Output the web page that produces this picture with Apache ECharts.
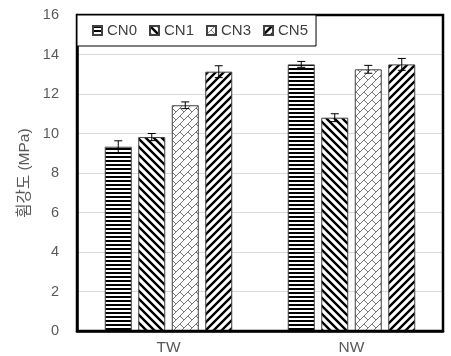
<!DOCTYPE html>
<html><head><meta charset="utf-8">
<script src="https://cdn.jsdelivr.net/npm/echarts@6/dist/echarts.min.js"></script>
<style>html,body{margin:0;padding:0;background:#fff}#c{width:451px;height:356px}</style>
</head><body><div id="c"></div>
<script>
var categories = ['TW', 'NW'];
var seriesNames = ['CN0', 'CN1', 'CN3', 'CN5'];
var CN0 = [9.33, 13.5];
var CN1 = [9.82, 10.8];
var CN3 = [11.43, 13.25];
var CN5 = [13.13, 13.5];
var CN0_err = [0.3, 0.15];
var CN1_err = [0.18, 0.2];
var CN3_err = [0.17, 0.2];
var CN5_err = [0.3, 0.3];
var yTicks = [0, 2, 4, 6, 8, 10, 12, 14, 16];

var values = [CN0, CN1, CN3, CN5];
var errs = [CN0_err, CN1_err, CN3_err, CN5_err];

function mk(w, h, draw) {
  var c = document.createElement('canvas'); c.width = w; c.height = h;
  var g = c.getContext('2d'); g.fillStyle = '#fff'; g.fillRect(0, 0, w, h);
  draw(g); return c;
}
var patH = mk(4, 4, function (g) { g.fillStyle = '#000'; g.fillRect(0, 0, 4, 2); });
var patBack = mk(8, 8, function (g) {
  g.strokeStyle = '#000'; g.lineWidth = 2.4;
  g.beginPath(); g.moveTo(-2, -2); g.lineTo(10, 10);
  g.moveTo(-10, -2); g.lineTo(2, 10); g.moveTo(6, -2); g.lineTo(18, 10); g.stroke();
});
var patFwd = mk(8, 8, function (g) {
  g.strokeStyle = '#000'; g.lineWidth = 2.4;
  g.beginPath(); g.moveTo(-2, 10); g.lineTo(10, -2);
  g.moveTo(-10, 10); g.lineTo(2, -2); g.moveTo(6, 10); g.lineTo(18, -2); g.stroke();
});
var patBrick = mk(8, 8, function (g) {
  g.strokeStyle = '#777'; g.lineWidth = 1;
  g.beginPath(); g.moveTo(-1, 9); g.lineTo(9, -1);
  g.moveTo(4, 4); g.lineTo(9, 9); g.stroke();
});
var pats = [patH, patBack, patBrick, patFwd];

var BW = 27, GAP = 6.5;
var font = '"Liberation Sans", Arial, "Noto Sans CJK KR", sans-serif';

var series = [];
seriesNames.forEach(function (n, i) {
  series.push({
    name: n, type: 'bar', data: values[i], barWidth: BW, barGap: (GAP / BW * 100) + '%',
    itemStyle: { color: { image: pats[i], repeat: 'repeat' }, borderColor: '#404040', borderWidth: 1 },
    z: 2
  });
});
seriesNames.forEach(function (n, i) {
  var d = values[i].map(function (v, k) { return [k, v, errs[i][k]]; });
  series.push({
    type: 'custom', name: n + '_err', data: d, z: 5, silent: true,
    renderItem: function (params, api) {
      var k = api.value(0), v = api.value(1), e = api.value(2);
      var off = (i - 1.5) * (BW + GAP);
      var top = api.coord([k, v + e]), bot = api.coord([k, v - e]);
      var x = top[0] + off;
      var st = { stroke: '#000', lineWidth: 1 };
      return { type: 'group', children: [
        { type: 'line', shape: { x1: x, y1: top[1], x2: x, y2: bot[1] }, style: st },
        { type: 'line', shape: { x1: x - 4, y1: top[1], x2: x + 4, y2: top[1] }, style: st },
        { type: 'line', shape: { x1: x - 4, y1: bot[1], x2: x + 4, y2: bot[1] }, style: st }
      ]};
    }
  });
});

var chart = echarts.init(document.getElementById('c'), null, { renderer: 'canvas' });
chart.setOption({
  animation: false,
  backgroundColor: '#fff',
  textStyle: { fontFamily: font },
  grid: { left: 77, right: 8, top: 15, bottom: 25, show: true, borderColor: '#000', borderWidth: 2.5, backgroundColor: 'transparent', z: 10 },
  legend: {
    data: seriesNames, left: 77, top: 15, orient: 'horizontal',
    itemWidth: 9, itemHeight: 9, itemGap: 12,
    padding: [8, 8, 8, 15], borderColor: '#000', borderWidth: 1, backgroundColor: '#fff',
    textStyle: { fontSize: 15, color: '#404040', fontFamily: font },
    icon: 'rect', z: 20
  },
  xAxis: {
    type: 'category', data: categories,
    axisLine: { show: true, lineStyle: { color: '#000', width: 2.5 } },
    axisTick: { show: false },
    axisLabel: { fontSize: 15.5, color: '#595959', margin: 9, fontFamily: font }
  },
  yAxis: {
    type: 'value', min: yTicks[0], max: yTicks[yTicks.length - 1], interval: 2,
    name: '휨강도 (MPa)', nameLocation: 'middle', nameGap: 41, nameRotate: 90,
    nameTextStyle: { fontSize: 15.5, color: '#595959', fontFamily: font },
    axisLine: { show: true, lineStyle: { color: '#000', width: 2.5 } },
    axisTick: { show: false },
    splitLine: { lineStyle: { color: '#d9d9d9', width: 1 } },
    axisLabel: { fontSize: 14.5, color: '#595959', margin: 18, fontFamily: font }
  },
  series: series
});
</script></body></html>
